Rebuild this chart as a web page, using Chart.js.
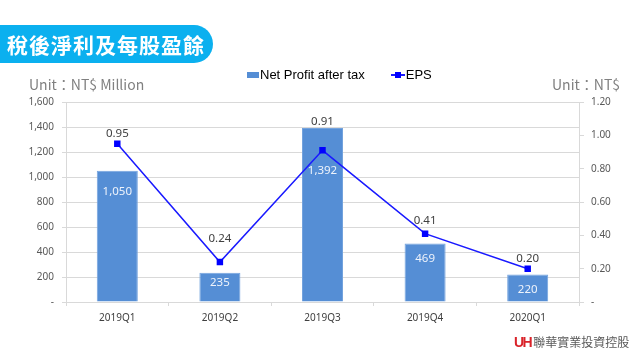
<!DOCTYPE html>
<html><head><meta charset="utf-8">
<script src="https://cdn.jsdelivr.net/npm/chart.js@4"></script>
<style>
html,body{margin:0;padding:0;background:#fff;width:640px;height:357px;overflow:hidden;font-family:"Noto Sans CJK TC","Noto Sans",sans-serif;}
#wrap{position:relative;width:640px;height:357px;}
canvas{position:absolute;left:0;top:0;}
#banner{position:absolute;left:0;top:25px;width:213px;height:38px;background:#0bb0ef;border-radius:0 19px 19px 0;color:#fff;font-weight:bold;font-size:21px;line-height:38px;padding-left:7px;box-sizing:border-box;letter-spacing:1px;font-family:"Noto Sans CJK TC",sans-serif;}
.unit{position:absolute;top:74px;color:#808080;font-size:14px;font-family:"Noto Sans CJK TC","Noto Sans",sans-serif;}
#legend{position:absolute;top:66px;left:247px;height:16px;font-size:13px;color:#000;font-family:"Liberation Sans",Arial,sans-serif;white-space:nowrap;}
#legend span{display:inline-block;vertical-align:middle;}
#logo{position:absolute;left:514px;top:333px;font-size:12px;color:#595959;white-space:nowrap;font-family:"Noto Sans CJK TC",sans-serif;}
#logo b{color:#d9232a;font-family:"Liberation Sans",Arial,sans-serif;font-size:14px;font-weight:900;letter-spacing:-1.5px;margin-right:2px;}
</style></head>
<body><div id="wrap">
<canvas id="c" width="640" height="357"></canvas>
<div id="banner">稅後淨利及每股盈餘</div>
<div class="unit" style="left:29px;">Unit：NT$ Million</div>
<div class="unit" style="left:552px;">Unit：NT$</div>
<div id="legend"><span style="width:12px;height:6px;background:#558ed5;margin-right:1px;"></span><span>Net Profit after tax</span><span style="width:26px;"></span><span style="position:relative;width:14px;height:10px;"><span style="position:absolute;left:0;top:4px;width:14px;height:2px;background:#1a1aff;"></span><span style="position:absolute;left:4px;top:2px;width:6px;height:6px;background:#0000ff;"></span></span><span style="margin-left:1px;">EPS</span></div>
<div id="logo"><b>UH</b>聯華實業投資控股</div>
</div>
<script>
const categories = ["2019Q1","2019Q2","2019Q3","2019Q4","2020Q1"];
const netProfit = [1050, 235, 1392, 469, 220];
const eps = [0.95, 0.24, 0.91, 0.41, 0.20];
const leftTicks = [0, 200, 400, 600, 800, 1000, 1200, 1400, 1600];
const rightTicks = [0, 0.2, 0.4, 0.6, 0.8, 1.0, 1.2];

// label placement offsets (pixels), as hand-placed in the original
const barLabelDrop = [21, 10, 43, 15, 15];
const epsLabelRise = [10, 23, 29, 12.5, 10];

const labelPlugin = {
  id: 'labels',
  afterDatasetsDraw(chart) {
    const ctx = chart.ctx;
    ctx.save();
    ctx.textAlign = 'center';
    ctx.textBaseline = 'middle';
    ctx.font = '11.5px "Noto Sans","DejaVu Sans",sans-serif';
    const bm = chart.getDatasetMeta(0);
    bm.data.forEach((el, i) => {
      ctx.fillStyle = '#eef3fb';
      ctx.fillText(netProfit[i].toLocaleString('en-US'), el.x, el.y + barLabelDrop[i]);
    });
    const lm = chart.getDatasetMeta(1);
    lm.data.forEach((el, i) => {
      ctx.fillStyle = '#404040';
      ctx.fillText(eps[i].toFixed(2), el.x, el.y - epsLabelRise[i]);
    });
    ctx.restore();
  }
};

new Chart(document.getElementById('c'), {
  data: {
    labels: categories,
    datasets: [
      { type: 'bar', label: 'Net Profit after tax', data: netProfit, yAxisID: 'y',
        backgroundColor: '#558ed5', borderColor: '#74a3de', borderWidth: 1,
        categoryPercentage: 1, barPercentage: 0.4, order: 2 },
      { type: 'line', label: 'EPS', data: eps, yAxisID: 'y1',
        borderColor: '#1a1aff', borderWidth: 1.5, pointStyle: 'rect',
        pointRadius: 3.5, pointBackgroundColor: '#0000ff', pointBorderColor: '#0000ff',
        tension: 0, order: 1 }
    ]
  },
  options: {
    responsive: false, animation: false,
    layout: { padding: { top: 102, left: 0, right: 0, bottom: 0 } },
    plugins: { legend: { display: false }, tooltip: { enabled: false } },
    scales: {
      x: {
        offset: true,
        grid: { offset: true, drawOnChartArea: false, drawTicks: true, tickLength: 4, color: '#d9d9d9' },
        border: { color: '#d9d9d9' },
        ticks: { color: '#404040', font: { size: 10, family: '"Noto Sans","DejaVu Sans",sans-serif' }, padding: 6 },
        afterFit(s) { s.height = 55; }
      },
      y: {
        position: 'left', min: 0, max: 1600,
        afterBuildTicks(s) { s.ticks = leftTicks.map(v => ({ value: v })); },
        grid: { color: '#d9d9d9', tickLength: 4 },
        border: { color: '#d9d9d9' },
        ticks: { color: '#595959', font: { size: 10, family: '"Noto Sans","DejaVu Sans",sans-serif' }, padding: 8,
          callback: v => v === 0 ? '-' : v.toLocaleString('en-US') },
        afterFit(s) { s.width = 66; }
      },
      y1: {
        position: 'right', min: 0, max: 1.2,
        afterBuildTicks(s) { s.ticks = rightTicks.map(v => ({ value: v })); },
        grid: { drawOnChartArea: false, color: '#d9d9d9', tickLength: 5 },
        border: { color: '#d9d9d9' },
        ticks: { color: '#595959', font: { size: 10, family: '"Noto Sans","DejaVu Sans",sans-serif' }, padding: 7,
          callback: v => v === 0 ? '-' : v.toFixed(2) },
        afterFit(s) { s.width = 61; }
      }
    }
  },
  plugins: [labelPlugin]
});
</script>
</body></html>
